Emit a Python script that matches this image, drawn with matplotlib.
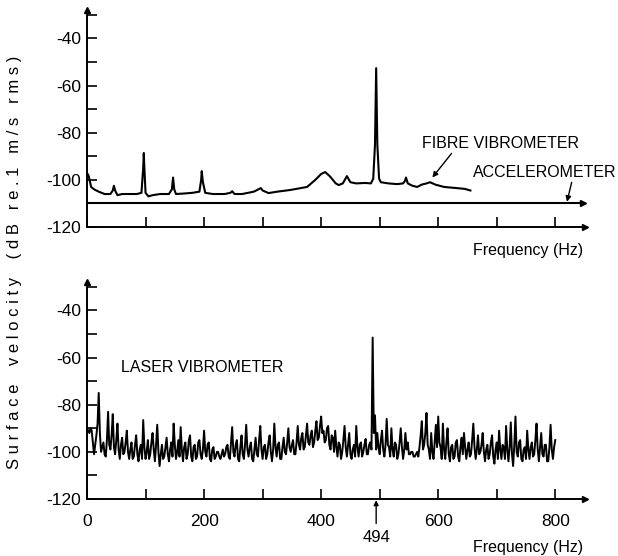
import numpy as np
import matplotlib
matplotlib.use("Agg")
from matplotlib import pyplot as plt
from matplotlib.ticker import MultipleLocator

plt.rcParams['font.family'] = ['Liberation Sans', 'DejaVu Sans']

# Top panel: fibre vibrometer spectrum (Hz, dB) and accelerometer floor
fibre_freq = [0, 3, 7, 12, 20, 30, 40, 44, 46, 48, 52, 60, 70, 85, 93, 96, 97, 98, 100,
              105, 112, 125, 140, 145, 147, 149, 152, 165, 180, 192, 195, 196, 198, 202,
              215, 235, 245, 248, 252, 265, 285, 297, 300, 310, 325, 347, 376, 390, 400,
              407, 415, 425, 430, 437, 444, 450, 460, 475, 485, 489, 492, 494, 496, 499,
              502, 515, 530, 540, 543, 545, 548, 556, 564, 572, 580, 586, 595, 610, 632,
              645, 655]
fibre_db = [-97, -98.5, -103, -104, -105, -106, -106, -104.5, -102.5, -104.5, -106.5, -106,
            -106, -106, -105.5, -95, -88.6, -95, -105.5, -107, -106.5, -106, -106, -104, -99,
            -104, -106, -105.8, -105.5, -105, -100, -96.3, -101, -105.5, -106, -106, -105.5,
            -104.8, -106, -106, -105, -103.5, -104.5, -105.6, -105, -104.3, -103, -100, -97.5,
            -96.7, -98.5, -101.5, -102.2, -101.5, -98.4, -101, -101.5, -101.3, -101.5, -99.5,
            -85, -52.6, -85, -99.5, -101, -101.5, -101.8, -101.5, -100.5, -99, -101.5, -102.5,
            -103, -102, -101.5, -101, -102, -103, -103.5, -103.8, -104.5]
accel_freq = [0, 848]
accel_db = [-110, -110]

# Bottom panel: laser vibrometer spectrum, one value every 2 Hz from 0 to 800 Hz
laser_db = [
    -90, -91, -92, -90, -91, -96, -101, -97, -93, -88, -75, -92, -100, -98, -96, -101, -102, -95, -83, -97,
    -99, -93, -84, -98, -101, -95, -88, -99, -103, -97, -94, -101, -100, -96, -91, -100, -103, -99, -96, -103,
    -102, -97, -93, -101, -104, -99, -97, -103, -86.5, -98, -103, -100, -95, -103, -101, -96, -92, -99, -104, -97,
    -88.5, -100, -106, -101, -97, -103, -102, -98, -94, -101, -104, -99, -96, -102, -88, -97, -103, -100, -95, -102,
    -89.5, -99, -104, -98, -96, -103, -101, -95, -93, -102, -104, -98, -97, -103, -102, -96, -95, -101, -103, -99,
    -91, -100, -102, -97, -96, -103, -104, -99, -98, -103, -102, -100, -100, -102, -103, -101, -99, -102, -101, -98,
    -97, -102, -103, -96, -89.5, -100, -102, -97, -95, -103, -104, -98, -93, -101, -103, -97, -88.5, -99, -102, -98,
    -96, -103, -104, -99, -94, -101, -102, -95, -89, -99, -103, -98, -97, -103, -101, -96, -93, -100, -104, -99,
    -88, -98, -102, -97, -96, -103, -103, -98, -94, -100, -101, -96, -90, -98, -100, -97, -95, -101, -101, -96,
    -89, -97, -99, -94, -92, -99, -98, -93, -88, -96, -97, -93, -91, -98, -96, -91, -87, -95, -94, -89,
    -85, -92, -91, -96, -95, -90, -89, -97, -99, -93, -94, -100, -91, -98, -102, -96, -97, -103, -100, -95,
    -89, -98, -102, -97, -92, -101, -103, -99, -97, -102, -89, -98, -102, -97, -96, -102, -100, -97, -94.5, -101,
    -101, -97, -96, -99, -51.5, -92, -84.5, -99, -92, -98, -101, -95, -91, -99, -102, -97, -86, -97, -98, -102,
    -90, -99, -102, -96, -97, -103, -101, -96, -90, -98, -103, -99, -92, -99, -96, -101, -101, -100, -100, -102,
    -102, -101, -100, -102, -98, -93, -87, -99, -97, -92, -83.5, -97, -99, -103, -92, -100, -103, -96, -88.5, -98,
    -85, -96, -98, -103, -88, -99, -103, -96, -90, -101, -104, -98, -97, -103, -102, -96, -95, -102, -104, -98,
    -94, -101, -92, -98, -103, -99, -96, -102, -101, -95, -88, -98, -103, -99, -93, -101, -100, -97, -92, -100,
    -104, -99, -97, -103, -101, -96, -93, -102, -105, -99, -96, -103, -91, -99, -103, -97, -98, -103, -89, -99,
    -104, -98, -87.5, -101, -106, -97, -85, -100, -102, -96, -95, -103, -104, -99, -98, -103, -91, -99, -103, -98,
    -96, -102, -101, -95, -88, -99, -104, -98, -92, -101, -102, -97, -97, -104, -104, -98, -88.5, -99, -103, -98,
    -95]
laser_freq = np.linspace(0, 800, len(laser_db))

x_major = [0, 200, 400, 600, 800]
y_major = [-120, -100, -80, -60, -40]

fig = plt.figure(figsize=(6.18, 5.56), dpi=100)
ax1 = fig.add_axes([0.1408, 0.5917, 0.806, 0.390])
ax2 = fig.add_axes([0.1408, 0.1025, 0.806, 0.390])

for ax in (ax1, ax2):
    ax.set_xlim(0, 851)
    ax.set_ylim(-120, -28)
    ax.spines['top'].set_visible(False)
    ax.spines['right'].set_visible(False)
    ax.spines['left'].set_linewidth(1.4)
    ax.spines['bottom'].set_linewidth(1.4)
    ax.set_xticks(x_major)
    ax.xaxis.set_minor_locator(MultipleLocator(100))
    ax.set_yticks(y_major)
    ax.set_yticklabels([str(v) for v in y_major])
    ax.yaxis.set_minor_locator(MultipleLocator(10))
    ax.tick_params(axis='both', which='both', direction='in', length=7.5, width=1.2)
    ax.tick_params(axis='y', labelsize=12.5, pad=4)
    ax.tick_params(axis='x', labelsize=12.5, pad=11)
    # arrowheads at the end of the axes
    ax.plot(1, 0, '>', color='k', ms=5, transform=ax.transAxes, clip_on=False)
    ax.plot(0, 1, '^', color='k', ms=5, transform=ax.transAxes, clip_on=False)

ax1.set_xticklabels([])

ax1.plot(fibre_freq, fibre_db, color='k', lw=1.5)
ax1.plot(accel_freq, accel_db, color='k', lw=1.5)
ax1.plot(accel_freq[-1], accel_db[-1], '>', color='k', ms=5, clip_on=False)

ax1.annotate('FIBRE VIBROMETER', xy=(590, -99), xytext=(573, -84.4),
             fontsize=11.5, va='center', ha='left',
             arrowprops=dict(arrowstyle='-|>', color='k', lw=1, mutation_scale=8,
                             shrinkA=0, shrinkB=0, relpos=(0.2, 0)))
ax1.annotate('ACCELEROMETER', xy=(820, -109.3), xytext=(660, -96.7),
             fontsize=11.5, va='center', ha='left',
             arrowprops=dict(arrowstyle='-|>', color='k', lw=1, mutation_scale=8,
                             shrinkA=0, shrinkB=0, relpos=(0.69, 0)))

ax2.plot(laser_freq, laser_db, color='k', lw=1.4)
ax2.text(58, -64, 'LASER VIBROMETER', fontsize=11.5, va='center', ha='left')
ax2.annotate('494', xy=(494, -120.5), xytext=(494, -136.5), fontsize=12, ha='center',
             va='center', annotation_clip=False,
             arrowprops=dict(arrowstyle='-|>', color='k', lw=1, mutation_scale=7,
                             shrinkA=3, shrinkB=0))

fig.text(0.854, 0.550, 'Frequency (Hz)', fontsize=11.5, ha='center', va='center')
fig.text(0.854, 0.0144, 'Frequency (Hz)', fontsize=11.5, ha='center', va='center')
fig.text(0.024, 0.529,
         'S u r f a c e    v e l o c i t y    ( d B   r e . 1   m / s   r m s )',
         fontsize=12, rotation=90, ha='center', va='center')

fig.savefig('out.png', dpi=100)
